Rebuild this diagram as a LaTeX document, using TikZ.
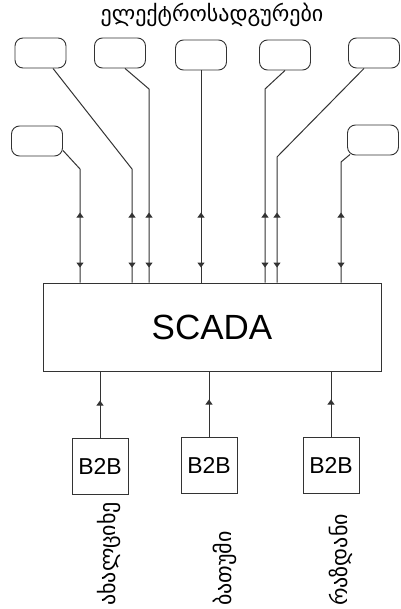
\documentclass[tikz,border=0pt]{standalone}
\usepackage{fontspec}
\setmainfont{Liberation Sans}
\newfontfamily\geo{DejaVu Sans}
\usetikzlibrary{arrows.meta,decorations.markings,calc}
\begin{document}
\begin{tikzpicture}[x=1pt,y=-1pt,
 rbox/.style={draw=black!80,line width=0.9pt,rounded corners=8pt,minimum width=51pt,minimum height=30pt,inner sep=0pt},
 sqbox/.style={draw=black!80,line width=0.9pt,minimum width=56pt,minimum height=56pt,inner sep=0pt,font=\fontsize{23}{23}\selectfont},
 conn/.style={draw=black!80,line width=1pt},
 bidir/.style={conn,postaction={decorate},decoration={markings,
   mark=at position -70pt with {\arrowreversed{Triangle[width=7pt,length=5pt]}},
   mark=at position -15pt with {\arrow{Triangle[width=7pt,length=5pt]}}}},
 updir/.style={conn,postaction={decorate},decoration={markings,
   mark=at position 37pt with {\arrow{Triangle[width=7pt,length=5pt]}}}},
 geolabel/.style={rotate=90,anchor=west,inner sep=0pt,font=\geo\fontsize{22}{22}\selectfont}
]
\useasboundingbox (0,0) rectangle (400,609);

\node[font=\geo\fontsize{22}{22}\selectfont] (title) at (212,15) {ელექტროსადგურები};

\node[rbox] (b1) at (40.5,53) {};
\node[rbox] (b2) at (120,53) {};
\node[rbox] (b3) at (201,55) {};
\node[rbox] (b4) at (285,55) {};
\node[rbox] (b5) at (374,53) {};
\node[rbox] (b6) at (37,141) {};
\node[rbox] (b7) at (373,140) {};

\node[draw=black!80,line width=0.9pt,minimum width=338pt,minimum height=88pt,inner sep=0pt,font=\fontsize{35}{35}\selectfont] (scada) at (212,327) {SCADA};

\coordinate (k6) at (80,169);
\coordinate (k1) at (132,169);
\coordinate (k2) at (149,89);
\coordinate (k4) at (265,89);
\coordinate (k5) at (277,157);
\coordinate (k7) at (341,162);

\draw[bidir] ($(b6.south east)+(0,-6)$) -- (k6) -- (k6 |- scada.north);
\draw[bidir] ($(b1.south)+(12.5,0)$) -- (k1) -- (k1 |- scada.north);
\draw[bidir] ($(b2.south)+(5,0)$) -- (k2) -- (k2 |- scada.north);
\draw[bidir] (b3.south) -- (b3.south |- scada.north);
\draw[bidir] (b4.south) -- (k4) -- (k4 |- scada.north);
\draw[bidir] ($(b5.south)+(-10,0)$) -- (k5) -- (k5 |- scada.north);
\draw[bidir] ($(b7.south west)+(3,-1)$) -- (k7) -- (k7 |- scada.north);

\node[sqbox] (q1) at (100,466) {B2B};
\node[sqbox] (q2) at (209,465) {B2B};
\node[sqbox] (q3) at (331,465) {B2B};

\draw[updir] (q1.north) -- (q1.north |- scada.south);
\draw[updir] (q2.north) -- (q2.north |- scada.south);
\draw[updir] (q3.north) -- (q3.north |- scada.south);

\node[geolabel] (l1) at (109,606) {ახალციხე};
\node[geolabel] (l2) at (225,606) {ბათუმი};
\node[geolabel] (l3) at (341,606) {რაზდანი};
\end{tikzpicture}
\end{document}
